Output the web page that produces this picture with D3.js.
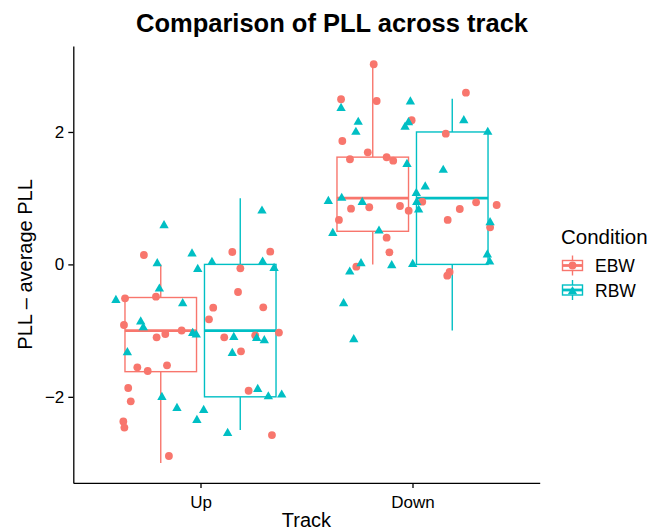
<!DOCTYPE html>
<html><head><meta charset="utf-8">
<script src="https://cdn.jsdelivr.net/npm/d3@7"></script>
<style>body{margin:0;background:#fff}svg{display:block}text{font-family:"Liberation Sans",Arial,sans-serif;fill:#000}</style>
</head><body><svg id="c" width="666" height="532"></svg>
<script>
const tracks = ["Up", "Down"];
const conditions = ["EBW", "RBW"];
const colors = ["#F8766D", "#00BFC4"];
const yTicks = [-2, 0, 2];
// box stats per track: [lower whisker, Q1, median, Q3, upper whisker]
const boxEBW = [[-3, -1.62, -1, -0.5, 0], [0, 0.5, 1, 1.62, 3]];
const boxRBW = [[-2.5, -2, -1, 0, 1], [-1, 0, 1, 2, 2.5]];
// jittered points: [horizontal jitter (category units), value]
const ebwUp = [[-0.267,0.142],[-0.356,-0.512],[-0.210,-0.488],[0.060,-0.654],[0.296,-0.648],[0.040,-0.829],[-0.361,-0.915],[-0.089,-0.998],[0.150,0.187],[0.329,0.192],[0.188,-0.059],[0.177,-0.417],[0.370,-1.029],[-0.207,-1.101],[-0.166,-1.051],[-0.298,-1.554],[-0.249,-1.610],[-0.158,-1.524],[-0.341,-1.867],[-0.329,-2.068],[-0.364,-2.373],[-0.359,-2.464],[-0.149,-2.894],[0.112,-1.101],[0.191,-1.313],[0.258,-1.071],[0.227,-1.908],[0.337,-2.577]];
const rbwUp = [[-0.172,0.610],[0.290,0.832],[-0.040,0.183],[-0.204,0.036],[-0.013,-0.050],[0.054,0.056],[0.293,0.062],[0.347,-0.035],[-0.194,-0.346],[-0.399,-0.518],[-0.084,-0.568],[-0.282,-0.844],[-0.270,-0.931],[-0.037,-1.017],[-0.020,-1.041],[-0.345,-1.308],[0.157,-1.077],[0.265,-1.092],[0.301,-1.127],[0.150,-1.319],[0.270,-1.863],[0.320,-1.973],[0.383,-1.947],[-0.182,-1.983],[-0.111,-2.150],[0.015,-2.180],[-0.017,-2.331],[0.128,-2.527]];
const ebwDown = [[-0.183,3.023],[-0.337,2.494],[-0.169,2.468],[-0.004,2.177],[-0.331,1.864],[-0.211,1.693],[-0.295,1.588],[-0.122,1.618],[-0.091,1.566],[0.252,2.594],[0.157,1.974],[0.300,0.938],[0.397,0.897],[-0.059,0.882],[-0.290,0.841],[-0.204,0.863],[-0.018,0.811],[-0.347,0.671],[-0.122,0.403],[-0.109,0.183],[-0.265,-0.035],[0.046,0.947],[0.166,0.671],[0.223,0.837],[0.366,0.560],[0.175,-0.115],[0.164,-0.171]];
const rbwDown = [[-0.337,2.382],[-0.010,2.479],[-0.256,2.171],[-0.267,2.020],[-0.035,2.098],[-0.019,2.166],[-0.026,1.536],[0.242,2.196],[0.355,2.020],[0.145,1.446],[0.060,1.195],[0.018,1.098],[0.020,0.962],[-0.397,0.977],[-0.334,1.023],[-0.237,0.962],[0.029,0.847],[-0.376,0.494],[-0.158,0.530],[-0.243,0.036],[-0.296,-0.089],[-0.098,0.006],[0.001,0.026],[0.366,0.656],[0.353,0.168],[0.364,0.062],[-0.325,-0.568],[-0.277,-1.112]];

const svg = d3.select("#c");
const x = d3.scaleLinear().domain([0.4, 2.6]).range([73.3, 539.7]);
const y = d3.scaleLinear().domain([-3.3, 3.3]).range([482.9, 45.9]);
const dodge = 0.1875, boxW = 0.3375;

// boxes
const boxes = [];
tracks.forEach((t, i) => {
  boxes.push({pos: i + 1 - dodge, s: boxEBW[i], c: colors[0]});
  boxes.push({pos: i + 1 + dodge, s: boxRBW[i], c: colors[1]});
});
const bg = svg.append("g");
boxes.forEach(b => {
  const g = bg.append("g").attr("stroke", b.c).attr("fill", "#fff");
  const cx = x(b.pos), x0 = x(b.pos - boxW / 2), x1 = x(b.pos + boxW / 2);
  g.append("line").attr("x1", cx).attr("x2", cx).attr("y1", y(b.s[0])).attr("y2", y(b.s[1])).attr("stroke-width", 1.4);
  g.append("line").attr("x1", cx).attr("x2", cx).attr("y1", y(b.s[3])).attr("y2", y(b.s[4])).attr("stroke-width", 1.4);
  g.append("rect").attr("x", x0).attr("y", y(b.s[3])).attr("width", x1 - x0).attr("height", y(b.s[1]) - y(b.s[3])).attr("stroke-width", 1.4);
  g.append("line").attr("x1", x0).attr("x2", x1).attr("y1", y(b.s[2])).attr("y2", y(b.s[2])).attr("stroke-width", 2.8);
});

// points
const groups = [
  {pts: ebwUp, base: 1, cond: 0}, {pts: ebwDown, base: 2, cond: 0},
  {pts: rbwUp, base: 1, cond: 1}, {pts: rbwDown, base: 2, cond: 1}
];
const pg = svg.append("g");
const tri = d3.symbol().type(d3.symbolTriangle).size(38);
groups.forEach(gr => {
  gr.pts.forEach(p => {
    const px = x(gr.base + p[0]), py = y(p[1]);
    if (gr.cond === 0) pg.append("circle").attr("cx", px).attr("cy", py).attr("r", 3.9).attr("fill", colors[0]);
    else pg.append("path").attr("d", tri()).attr("transform", `translate(${px},${py + 1.5})`).attr("fill", colors[1]);
  });
});

// axes
const xAxis = svg.append("g").attr("transform", "translate(0,482.9)")
  .call(d3.axisBottom(x).tickValues([1, 2]).tickFormat((d, i) => tracks[i]).tickSize(5).tickPadding(4).tickSizeOuter(0));
const yAxis = svg.append("g").attr("transform", "translate(73.3,0)")
  .call(d3.axisLeft(y).tickValues(yTicks).tickFormat(d3.format("d")).tickSize(5).tickPadding(4).tickSizeOuter(0));
[xAxis, yAxis].forEach(a => {
  a.select(".domain").attr("stroke", "#000").attr("stroke-width", 1.3);
  a.selectAll(".tick line").attr("stroke", "#000").attr("stroke-width", 1.3);
  a.selectAll(".tick text").attr("font-size", 17).attr("fill", "#000").style("font-family", '"Liberation Sans",Arial,sans-serif');
});
xAxis.selectAll(".tick text").attr("dy", "0.95em");

// titles
svg.append("text").attr("x", 332).attr("y", 31.5).attr("text-anchor", "middle").attr("font-size", 25.5).attr("font-weight", "bold").text("Comparison of PLL across track");
svg.append("text").attr("x", 306.5).attr("y", 527).attr("text-anchor", "middle").attr("font-size", 20).text("Track");
svg.append("text").attr("transform", "translate(32,264.4) rotate(-90)").attr("text-anchor", "middle").attr("font-size", 20).text("PLL – average PLL");

// legend
const lg = svg.append("g").attr("transform", "translate(561,0)");
lg.append("text").attr("x", 0).attr("y", 243.5).attr("font-size", 20.5).text("Condition");
conditions.forEach((c, i) => {
  const cy = 265.5 + i * 24.5;
  const k = lg.append("g").attr("stroke", colors[i]).attr("fill", "#fff");
  k.append("line").attr("x1", 11.5).attr("x2", 11.5).attr("y1", cy - 10).attr("y2", cy + 10).attr("stroke-width", 1.4);
  k.append("rect").attr("x", 1.5).attr("y", cy - 5).attr("width", 20).attr("height", 10).attr("stroke-width", 1.4);
  k.append("line").attr("x1", 1.5).attr("x2", 21.5).attr("y1", cy).attr("y2", cy).attr("stroke-width", 2.8);
  if (i === 0) lg.append("circle").attr("cx", 11.5).attr("cy", cy).attr("r", 3.9).attr("fill", colors[0]);
  else lg.append("path").attr("d", tri()).attr("transform", `translate(11.5,${cy + 1.5})`).attr("fill", colors[1]);
  lg.append("text").attr("x", 34).attr("y", cy + 6.5).attr("font-size", 17.5).text(c);
});
</script></body></html>
